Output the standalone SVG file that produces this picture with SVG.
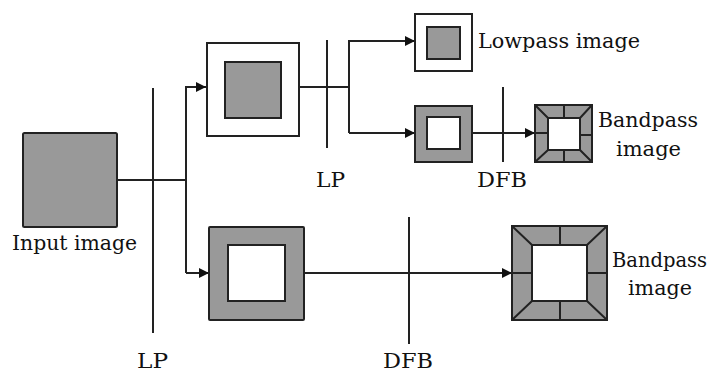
<svg xmlns="http://www.w3.org/2000/svg" width="711" height="374" viewBox="0 0 711 374">
<defs>
<marker id="ah" viewBox="0 0 10 10" refX="10" refY="5" markerWidth="10" markerHeight="10" markerUnits="userSpaceOnUse" orient="auto">
<path d="M0,0 L10,5 L0,10 Z" fill="#111"/>
</marker>
</defs>
<style>
.ln{stroke:#222;stroke-width:2;fill:none}
.bx{stroke:#222;stroke-width:2}
.g{fill:#999}
.w{fill:#fff}
.t{font-family:"DejaVu Serif","Liberation Serif",serif;font-size:21px;fill:#111}
</style>
<rect width="711" height="374" fill="#fff"/>
<g id="connectors">
<line class="ln" x1="153" y1="88" x2="153" y2="333"/>
<line class="ln" x1="117" y1="180" x2="186" y2="180"/>
<polyline class="ln" points="186,273 186,87 206,87" marker-end="url(#ah)"/>
<line class="ln" x1="186" y1="273" x2="209" y2="273" marker-end="url(#ah)"/>
<line class="ln" x1="299" y1="87" x2="349" y2="87"/>
<line class="ln" x1="327" y1="40" x2="327" y2="148"/>
<polyline class="ln" points="349,133 349,41 415,41" marker-end="url(#ah)"/>
<line class="ln" x1="349" y1="133" x2="415" y2="133" marker-end="url(#ah)"/>
<line class="ln" x1="472" y1="133" x2="535" y2="133" marker-end="url(#ah)"/>
<line class="ln" x1="503" y1="87" x2="503" y2="162"/>
<line class="ln" x1="304" y1="273" x2="512" y2="273" marker-end="url(#ah)"/>
<line class="ln" x1="409" y1="217" x2="409" y2="344"/>
</g>
<g id="input">
<rect class="bx g" x="23" y="133" width="94" height="94" rx="1.5"/>
<text class="t" x="12" y="250" textLength="125" lengthAdjust="spacingAndGlyphs">Input image</text>
</g>
<g id="lp1">
<rect class="bx w" x="207" y="43" width="92" height="93"/>
<rect class="bx g" x="225" y="62" width="56" height="56"/>
</g>
<g id="lowpass">
<rect class="bx w" x="415" y="14" width="57" height="57"/>
<rect class="bx g" x="427" y="27" width="33" height="32"/>
<text class="t" x="478" y="48" textLength="162" lengthAdjust="spacingAndGlyphs">Lowpass image</text>
</g>
<g id="bp-small">
<rect class="bx g" x="415" y="106" width="57" height="56"/>
<rect class="bx w" x="427" y="117" width="33" height="32"/>
</g>
<g id="dfb-small">
<rect class="bx g" x="535" y="105" width="57" height="57"/>
<rect class="bx w" x="548" y="118" width="32" height="32"/>
<path class="ln" d="M535,105 L548,118 M592,105 L580,118 M535,162 L548,150 M592,162 L580,150 M564,105 L564,118 M564,150 L564,162 M580,135 L592,135 M535,133 L548,133"/>
<text class="t" x="598" y="127" textLength="100" lengthAdjust="spacingAndGlyphs">Bandpass</text>
<text class="t" x="616" y="156" textLength="65" lengthAdjust="spacingAndGlyphs">image</text>
</g>
<g id="bp-large">
<rect class="bx g" x="209" y="227" width="95" height="93" rx="1"/>
<rect class="bx w" x="228" y="245" width="57" height="56"/>
</g>
<g id="dfb-large">
<rect class="bx g" x="512" y="226" width="95" height="94"/>
<rect class="bx w" x="532" y="245" width="55" height="56"/>
<path class="ln" d="M512,226 L532,245 M607,226 L587,245 M512,320 L532,301 M607,320 L587,301 M560,226 L560,245 M560,301 L560,320 M587,273 L607,273 M512,273 L532,273"/>
<text class="t" x="612" y="267" style="font-size:19.5px">Bandpass</text>
<text class="t" x="628" y="295" textLength="64" lengthAdjust="spacingAndGlyphs">image</text>
</g>
<g id="labels">
<text class="t" x="137" y="368" textLength="31" lengthAdjust="spacingAndGlyphs">LP</text>
<text class="t" x="383" y="368" textLength="50" lengthAdjust="spacingAndGlyphs">DFB</text>
<text class="t" x="316" y="187" textLength="29" lengthAdjust="spacingAndGlyphs">LP</text>
<text class="t" x="477" y="187" textLength="50" lengthAdjust="spacingAndGlyphs">DFB</text>
</g>
</svg>
